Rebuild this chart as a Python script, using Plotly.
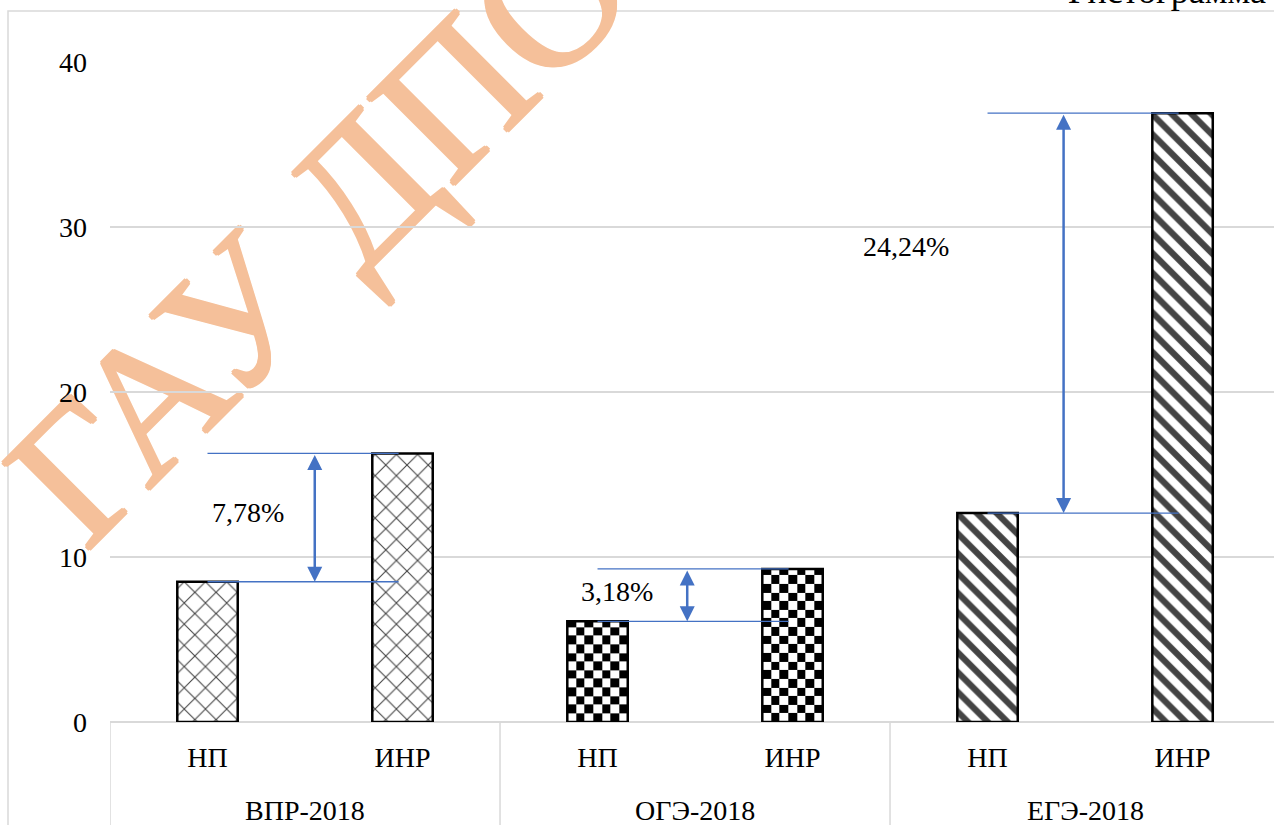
import numpy as np
import plotly.graph_objects as go

# Data
exams = ["ВПР-2018", "ОГЭ-2018", "ЕГЭ-2018"]
groups = ["НП", "ИНР"]
np_values = [8.5, 6.1, 12.66]
inr_values = [16.28, 9.28, 36.90]
gap_labels = ["7,78%", "3,18%", "24,24%"]

# Style / layout settings
FONT = "Liberation Serif, Times New Roman, serif"
W, H = 1274, 825
M_L, M_R, M_T, M_B = 110, 0, 62, 103
X_RANGE = [-0.5, 5.469]
Y_RANGE = [0, 40]
BAR_W = 0.31
GRID = "#d9d9d9"
BLUE = "#4472C4"
WM_COLOR = "#F5C09A"
gap_label_pos = [(0.21, 12.67), (2.1, 7.88), (3.58, 28.8)]
arrow_shift = [0.05, -0.04, -0.11]

PW, PH = W - M_L - M_R, H - M_T - M_B
px_x = PW / (X_RANGE[1] - X_RANGE[0])
px_y = PH / (Y_RANGE[1] - Y_RANGE[0])

# bar positions: two bars per exam
xs, ys, ticktext = [], [], []
for i, exam in enumerate(exams):
    for j, g in enumerate(groups):
        xs.append(2 * i + j)
        ys.append([np_values, inr_values][j][i])
        ticktext.append(g)

pattern_shapes = ["x", "x", "", "", "\\", "\\"]
pattern_sizes = [15, 15, 8, 8, 14, 14]
pattern_solid = [0.14, 0.14, 0.3, 0.3, 0.45, 0.45]
bar_fill = ["white", "white", "rgba(0,0,0,0)", "rgba(0,0,0,0)", "white", "white"]

fig = go.Figure()

# checkerboard texture for the ОГЭ bars
n_cols = 7
cell_x = BAR_W / n_cols
cell_y = cell_x * px_x / px_y
for k in (2, 3):
    c, v = xs[k], ys[k]
    xe = np.linspace(c - BAR_W / 2, c + BAR_W / 2, n_cols + 1)
    ye = np.append(np.arange(0, v, cell_y), v)
    nr = len(ye) - 1
    z = [[(r + q) % 2 for q in range(n_cols)] for r in range(nr)]
    fig.add_trace(go.Heatmap(
        x=xe, y=ye, z=z, zmin=0, zmax=1,
        colorscale=[[0, "white"], [1, "black"]],
        showscale=False, hoverinfo="skip", zsmooth=False,
    ))

fig.add_trace(go.Bar(
    x=xs, y=ys, width=BAR_W,
    marker=dict(
        color=bar_fill,
        line=dict(color="black", width=2.5),
        pattern=dict(shape=pattern_shapes, size=pattern_sizes,
                     solidity=pattern_solid, fgcolor="black", fgopacity=1,
                     bgcolor="white", fillmode="overlay"),
    ),
    hoverinfo="skip", showlegend=False,
))

shapes = []
annotations = []

# outer chart frame
shapes.append(dict(type="rect", xref="paper", yref="paper",
                   x0=(8 - M_L) / PW, x1=1.2,
                   y0=-0.5, y1=(PH + M_T - 11) / PH,
                   line=dict(color=GRID, width=1.5), layer="below"))

# watermark (drawn under the gridlines)
wx, wy, wf = 305, 216, 188
wm_shadow = ", ".join(f"{dx}px {dy}px 0 {WM_COLOR}"
                      for dx, dy in [(1.5, 0), (-1.5, 0), (0, 1.5), (0, -1.5)])
shapes.append(dict(type="rect", xref="paper", yref="paper",
                   x0=(wx - M_L) / PW - 0.001, x1=(wx - M_L) / PW + 0.001,
                   y0=(H - M_B - wy) / PH - 0.001, y1=(H - M_B - wy) / PH + 0.001,
                   line=dict(width=0), fillcolor="rgba(0,0,0,0)", layer="below",
                   label=dict(text="ГАУ ДПО", textangle=-45,
                              textposition="middle center",
                              font=dict(family=FONT, size=wf, color=WM_COLOR,
                                        shadow=wm_shadow))))

# group dividers below the axis
for i in range(len(exams) + 1):
    xb = 2 * i - 0.5
    shapes.append(dict(type="line", xref="x", yref="paper", x0=xb, x1=xb,
                       y0=0, y1=-0.3, line=dict(color=GRID, width=1.5)))

# group labels
for i, exam in enumerate(exams):
    annotations.append(dict(x=2 * i + 0.5, y=-88 / PH, xref="x", yref="paper",
                            text=exam, showarrow=False, yanchor="middle",
                            font=dict(family=FONT, size=28, color="black")))

# difference markers between НП and ИНР
for i in range(len(exams)):
    c_np, c_inr = 2 * i, 2 * i + 1
    lo, hi = np_values[i], inr_values[i]
    for lvl in (lo, hi):
        shapes.append(dict(type="line", xref="x", yref="y", x0=c_np, x1=c_inr - 0.02,
                           y0=lvl, y1=lvl, line=dict(color=BLUE, width=1.3)))
    xa = (c_np + c_inr) / 2 + arrow_shift[i]
    annotations.append(dict(x=xa, y=lo, ax=xa, ay=hi, xref="x", yref="y",
                            axref="x", ayref="y", text="", showarrow=True,
                            arrowside="end+start", arrowhead=2, startarrowhead=2,
                            arrowsize=1.2, startarrowsize=1.2, arrowwidth=2.5,
                            arrowcolor=BLUE, standoff=0, startstandoff=0))
    tx, ty = gap_label_pos[i]
    annotations.append(dict(x=tx, y=ty, xref="x", yref="y", text=gap_labels[i],
                            showarrow=False,
                            font=dict(family=FONT, size=28, color="black")))

# caption at the top right
annotations.append(dict(x=(1268 - M_L) / PW, y=(PH + M_T + 9) / PH,
                        xref="paper", yref="paper", text="Гистограмма",
                        showarrow=False, xanchor="right", yanchor="middle",
                        font=dict(family=FONT, size=36, color="black")))

fig.update_layout(
    width=W, height=H,
    margin=dict(l=M_L, r=M_R, t=M_T, b=M_B, pad=0),
    paper_bgcolor="white", plot_bgcolor="rgba(0,0,0,0)",
    showlegend=False,
    font=dict(family=FONT, size=28, color="black"),
    shapes=shapes, annotations=annotations,
    xaxis=dict(range=X_RANGE, tickvals=xs, ticktext=ticktext,
               showgrid=False, zeroline=False, showline=False, ticks="",
               tickfont=dict(family=FONT, size=28, color="black"),
               ticklabelstandoff=16, fixedrange=True),
    yaxis=dict(range=Y_RANGE, dtick=10, showgrid=True, gridcolor=GRID, gridwidth=1.5,
               zeroline=True, zerolinecolor=GRID, zerolinewidth=1.5,
               showline=False, ticks="",
               tickfont=dict(family=FONT, size=28, color="black"),
               ticklabelstandoff=22, fixedrange=True),
)

fig.write_html("out.html")
